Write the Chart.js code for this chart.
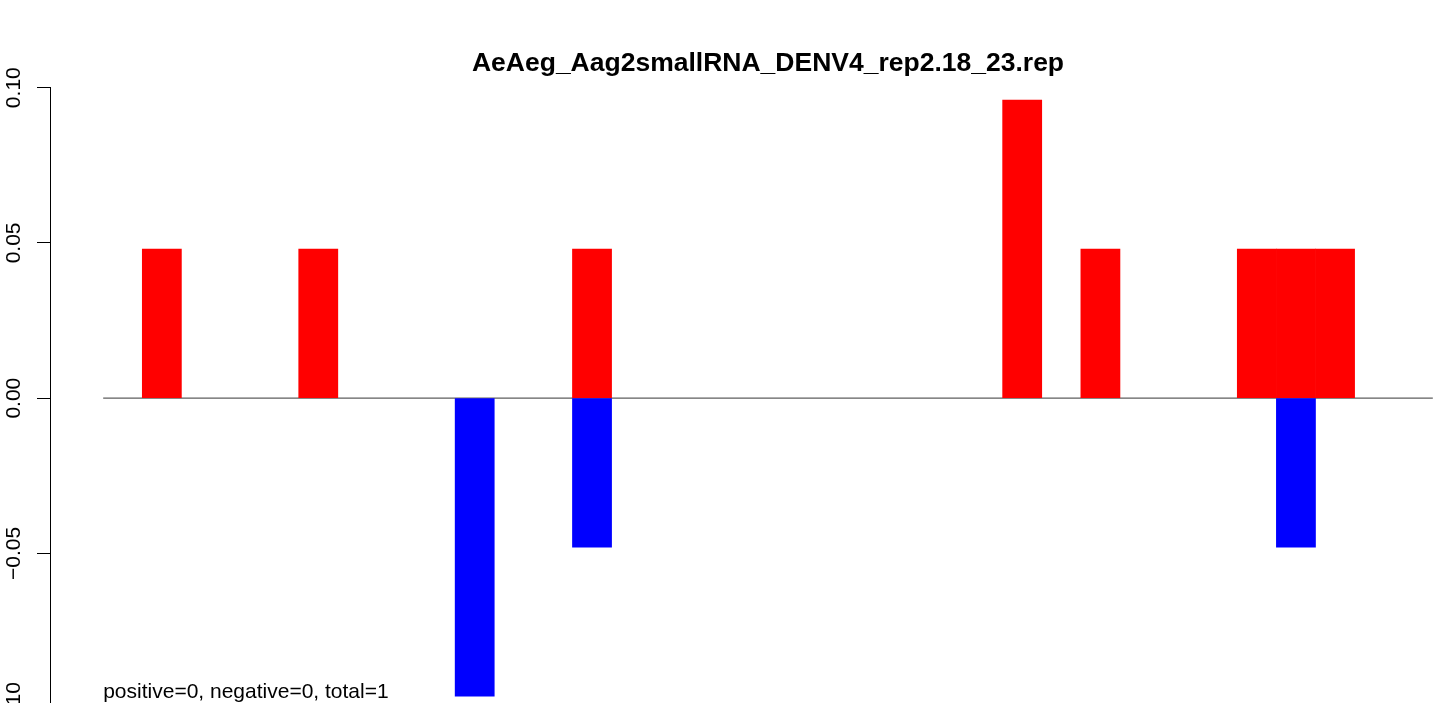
<!DOCTYPE html>
<html>
<head>
<meta charset="utf-8">
<script src="https://cdn.jsdelivr.net/npm/chart.js@4"></script>
<style>
  body { margin: 0; background: #fff; }
  #wrap { width: 1439px; height: 703px; overflow: hidden; }
</style>
</head>
<body>
<div id="wrap"><canvas id="barChart" width="1500" height="760"></canvas></div>
<script>
// bins along the sequence (1..34)
var positions = [1, 2, 3, 4, 5, 6, 7, 8, 9, 10, 11, 12, 13, 14, 15, 16, 17,
                 18, 19, 20, 21, 22, 23, 24, 25, 26, 27, 28, 29, 30, 31, 32, 33, 34];
// plus strand (red) and minus strand (blue)
var plusValues = [0, 0.048, 0, 0, 0, 0.048, 0, 0, 0, 0, 0, 0, 0.048, 0, 0, 0, 0,
                  0, 0, 0, 0, 0, 0, 0.096, 0, 0.048, 0, 0, 0, 0.048, 0.048, 0.048, 0, 0];
var minusValues = [0, 0, 0, 0, 0, 0, 0, 0, 0, -0.096, 0, 0, -0.048, 0, 0, 0, 0,
                   0, 0, 0, 0, 0, 0, 0, 0, 0, 0, 0, 0, 0, -0.048, 0, 0, 0];
var yTicks = [-0.10, -0.05, 0.00, 0.05, 0.10];
var titleText = "AeAeg_Aag2smallRNA_DENV4_rep2.18_23.rep";
var noteText = "positive=0, negative=0, total=1";

var FONT = "'Liberation Sans', Arial, sans-serif";

// empty bins become null so no hairline bar is drawn
function toPoints(vals) {
    return vals.map(function(v, i) { return { x: positions[i], y: v === 0 ? null : v }; });
}

function tickLabel(v) {
    return (v < 0 ? "\u2212" : "") + Math.abs(v).toFixed(2);
}

// rotated y labels (R style, las=0) and the note under the bars
var textPlugin = {
    id: "rtext",
    afterDraw: function(chart) {
        var c = chart.ctx;
        var xs = chart.scales.x, ys = chart.scales.y;
        c.save();
        c.fillStyle = "#000";
        c.font = "21px " + FONT;
        c.textAlign = "center";
        c.textBaseline = "middle";
        yTicks.forEach(function(v) {
            c.save();
            c.translate(14.5, ys.getPixelForValue(v));
            c.rotate(-Math.PI / 2);
            c.fillText(tickLabel(v), 0, 0);
            c.restore();
        });
        c.textAlign = "left";
        c.textBaseline = "alphabetic";
        c.fillText(noteText, xs.getPixelForValue(positions[0] - 0.5), ys.getPixelForValue(-0.0967));
        c.restore();
    }
};

var ctx = document.getElementById("barChart").getContext("2d");

new Chart(ctx, {
    type: "bar",
    data: {
        datasets: [{
            label: "plus",
            data: toPoints(plusValues),
            backgroundColor: "#FF0000",
            borderWidth: 0,
            grouped: false,
            barPercentage: 1,
            categoryPercentage: 1,
            order: 1
        }, {
            label: "minus",
            data: toPoints(minusValues),
            backgroundColor: "#0000FF",
            borderWidth: 0,
            grouped: false,
            barPercentage: 1,
            categoryPercentage: 1,
            order: 1
        }, {
            // zero line across the bins
            type: "line",
            label: "zero",
            data: [{ x: positions[0] - 0.5, y: 0 }, { x: positions[positions.length - 1] + 0.5, y: 0 }],
            borderColor: "#5e5e5e",
            borderWidth: 1.3,
            pointRadius: 0,
            fill: false,
            order: 10
        }]
    },
    options: {
        responsive: false,
        animation: false,
        devicePixelRatio: 1,
        layout: { padding: { left: 37, right: 14, top: 0, bottom: 51.4 } },
        plugins: {
            legend: { display: false },
            tooltip: { enabled: false },
            title: {
                display: true,
                text: titleText,
                fullSize: false,
                color: "#000",
                font: { family: FONT, size: 26.5, weight: "bold" },
                padding: { top: 47.9, bottom: 8 }
            }
        },
        scales: {
            x: {
                type: "linear",
                display: false,
                offset: false,
                min: -0.86,
                max: 35.86
            },
            y: {
                min: yTicks[0],
                max: yTicks[yTicks.length - 1],
                afterBuildTicks: function(axis) {
                    axis.ticks = yTicks.map(function(v) { return { value: v }; });
                },
                grid: { drawOnChartArea: false, tickLength: 13, tickColor: "#000", tickWidth: 1 },
                border: { display: true, color: "#000", width: 1 },
                ticks: { display: false }
            }
        }
    },
    plugins: [textPlugin]
});
</script>
</body>
</html>
